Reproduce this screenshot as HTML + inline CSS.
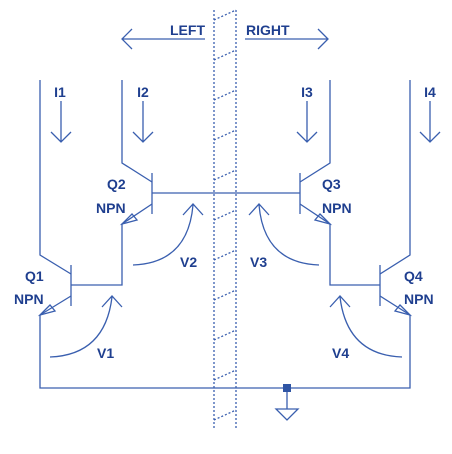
<!DOCTYPE html>
<html><head><meta charset="utf-8"><style>
body{margin:0;background:#fff}
svg text{font-family:"Liberation Sans",sans-serif;font-weight:bold;font-size:14px;fill:#1f3f8f}
</style></head><body>
<svg width="452" height="449" viewBox="0 0 452 449" xmlns="http://www.w3.org/2000/svg">
<g stroke="#3a5faf" stroke-width="1.3" fill="none">
 <g stroke-dasharray="2,2">
  <line x1="214" y1="10" x2="214" y2="430"/><line x1="236" y1="10" x2="236" y2="430"/>
  <path d="M214 20L236 10M214 60L236 50M214 100L236 90M214 140L236 130M214 180L236 170M214 220L236 210M214 260L236 250M214 300L236 290M214 340L236 330M214 380L236 370M214 420L236 410"/>
 </g>
 <g><path d="M205 39H122M132 29L122 39L132 49"/></g>
 <g><path d="M245 39H328M318 29L328 39L318 49"/></g>
 <g>
  <path d="M61 101V142M51 132L61 142L71 132"/>
  <path d="M143 101V142M133 132L143 142L153 132"/>
  <path d="M307 101V142M297 132L307 142L317 132"/>
  <path d="M430 101V142M420 132L430 142L440 132"/>
 </g>
 <g>
  <path d="M40 80V255L71 274"/><path d="M71 265V306"/><path d="M71 285H122V224L152 204"/><path d="M40 315V388H410V315"/>
  <path d="M71 296L40 315"/>
  <path d="M122 80V163L152 182"/><path d="M152 173V214"/><path d="M152 193H300"/>
  <path d="M410 80V255L380 274"/><path d="M380 265V306"/><path d="M380 285H330V224L300 204"/><path d="M380 296L410 315"/>
  <path d="M330 80V163L300 182"/><path d="M300 173V214"/>
  <path d="M287 388V409M276 409H298L287 420Z"/>
 </g>
 <g>
  <path d="M40 315L50 305L55 311Z"/><path d="M122 224L132 214L137 220Z"/>
  <path d="M410 315L400 305L395 311Z"/><path d="M330 224L320 214L315 220Z"/>
 </g>
 <g>
  <path d="M50 357Q105 355 112 297M102 307L112 296L122 307"/>
  <path d="M133 265Q188 263 193 205M183 215L193 204L203 215"/>
  <path d="M319 265Q264 263 259 205M249 215L259 204L269 215"/>
  <path d="M402 357Q347 355 340 297M330 307L340 296L350 307"/>
 </g>
</g>
<rect x="283" y="384" width="8" height="8" fill="#2f55a4"/>
<text x="205" y="35" text-anchor="end">LEFT</text>
<text x="246" y="35">RIGHT</text>
<text x="60" y="97" text-anchor="middle">I1</text>
<text x="143" y="97" text-anchor="middle">I2</text>
<text x="307" y="97" text-anchor="middle">I3</text>
<text x="430" y="97" text-anchor="middle">I4</text>
<text x="25" y="281">Q1</text>
<text x="14" y="304">NPN</text>
<text x="107" y="189">Q2</text>
<text x="96" y="213">NPN</text>
<text x="322" y="189">Q3</text>
<text x="322" y="213">NPN</text>
<text x="404" y="281">Q4</text>
<text x="404" y="304">NPN</text>
<text x="97" y="358">V1</text>
<text x="180" y="267">V2</text>
<text x="250" y="267">V3</text>
<text x="332" y="358">V4</text>
</svg>
</body></html>
